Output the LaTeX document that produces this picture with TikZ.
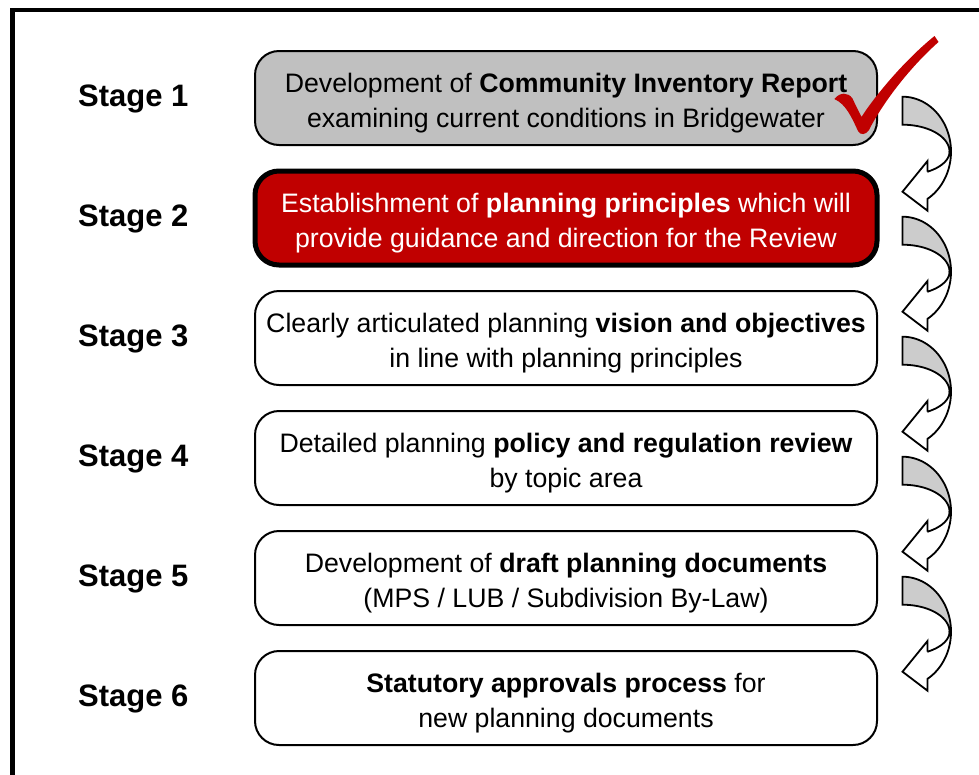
\documentclass[tikz,border=0pt]{standalone}
\usepackage{fontspec}
\setmainfont{Liberation Sans}
\usetikzlibrary{calc}
\definecolor{stagered}{HTML}{C00000}
\definecolor{donegray}{HTML}{C0C0C0}
\definecolor{backgray}{HTML}{CCCCCC}

\begin{document}
\begin{tikzpicture}[x=1pt,y=-1pt,
  stagebox/.style={draw=black, line width=2pt, rounded corners=24pt,
    minimum width=622pt, minimum height=94pt, inner sep=0pt, fill=white},
  donebox/.style={stagebox, fill=donegray},
  activebox/.style={stagebox, fill=stagered, line width=5pt},
  boxtext/.style={align=center, font=\fontsize{26.7}{35}\selectfont, inner sep=0pt},
  stagelabel/.style={font=\fontsize{31}{37}\selectfont\bfseries, anchor=base west, inner sep=0pt},
  flowback/.style={fill=backgray, draw=black, line width=1.8pt, line join=miter},
  flowfront/.style={fill=white, draw=black, line width=1.8pt, line join=miter},
]
\useasboundingbox (0,0) rectangle (979,774);
\clip (0,0) rectangle (979,774);

% outer frame (open towards the lower right)
\draw[line width=4.5pt] (12.5,790) -- (12.5,10) -- (990,10);

% stage boxes
\node[donebox]   (b1) at (566,98)  {};
\node[activebox] (b2) at (566,218) {};
\node[stagebox]  (b3) at (566,338) {};
\node[stagebox]  (b4) at (566,458) {};
\node[stagebox]  (b5) at (566,578) {};
\node[stagebox]  (b6) at (566,698) {};

% box texts
\node[boxtext] (t1) at ($(b1.center)+(0,5)$)
  {Development of \textbf{Community Inventory Report}\\examining current conditions in Bridgewater};
\node[boxtext, text=white] (t2) at ($(b2.center)+(0,5)$)
  {Establishment of \textbf{planning principles} which will\\provide guidance and direction for the Review};
\node[boxtext] (t3) at ($(b3.center)+(0,5)$)
  {Clearly articulated planning \textbf{vision and objectives}\\in line with planning principles};
\node[boxtext] (t4) at ($(b4.center)+(0,5)$)
  {Detailed planning \textbf{policy and regulation review}\\by topic area};
\node[boxtext] (t5) at ($(b5.center)+(0,5)$)
  {Development of \textbf{draft planning documents}\\(MPS / LUB / Subdivision By-Law)};
\node[boxtext] (t6) at ($(b6.center)+(0,5)$)
  {\textbf{Statutory approvals process} for\\new planning documents};

% stage labels
\node[stagelabel] (l1) at (78,106) {Stage 1};
\node[stagelabel] (l2) at (78,226) {Stage 2};
\node[stagelabel] (l3) at (78,346) {Stage 3};
\node[stagelabel] (l4) at (78,466) {Stage 4};
\node[stagelabel] (l5) at (78,586) {Stage 5};
\node[stagelabel] (l6) at (78,706) {Stage 6};

% curved arrows leading from one stage to the next
\foreach \k in {1,...,5}{
  \begin{scope}[shift={($(b\k.center)+(336.5,-1.3)$)}]
    \path[flowback] plot[domain=-90:0, samples=40] ({48.5*cos(\x)}, {55+55*sin(\x)})
      -- plot[domain=0:-90, samples=40] ({47*cos(\x)}, {55+27*sin(\x)}) -- cycle;
    \path[flowfront] plot[domain=0:59, samples=40] ({48.5*cos(\x)}, {55+55*sin(\x)})
      -- (25,114) -- (0,95) -- (25,64.3) -- (25,75)
      -- plot[domain=58:0, samples=30] ({47*cos(\x)}, {55+23.6*sin(\x)}) -- cycle;
  \end{scope}
}

% check mark on the completed stage
\fill[stagered] (834.3,99) .. controls (840,92) and (848,92) .. (852.5,98.5)
  .. controls (855,104) and (858,110) .. (861.5,117)
  .. controls (870,103) and (900,64) .. (934.5,36)
  -- (938.5,42)
  .. controls (907,70) and (881,106) .. (869,130)
  .. controls (866,135) and (860,135.5) .. (858,131)
  .. controls (852,118) and (846,104) .. (834.3,99) -- cycle;
\end{tikzpicture}
\end{document}
